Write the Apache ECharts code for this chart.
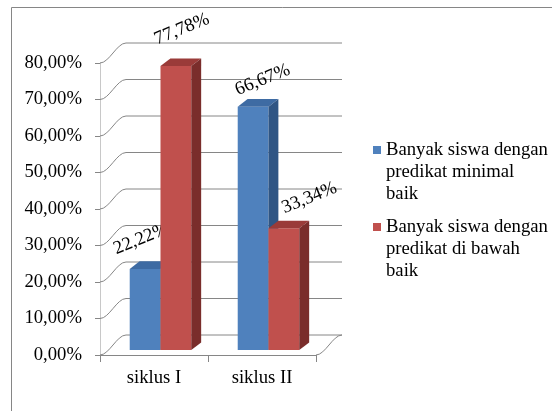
<!DOCTYPE html>
<html><head><meta charset="utf-8">
<script src="https://cdn.jsdelivr.net/npm/echarts@6/dist/echarts.min.js"></script>
<style>html,body{margin:0;padding:0;background:#fff}#c{width:552px;height:411px}</style>
</head><body><div id="c"></div>
<script>
// ---- data ----
const categories = ['siklus I', 'siklus II'];
const seriesNames = ['Banyak siswa dengan predikat minimal baik', 'Banyak siswa dengan predikat di bawah baik'];
const legendLines = [['Banyak siswa dengan', 'predikat minimal', 'baik'], ['Banyak siswa dengan', 'predikat di bawah', 'baik']];
const minimalBaik = [22.22, 66.67];
const diBawahBaik = [77.78, 33.34];
const yTicks = [0, 10, 20, 30, 40, 50, 60, 70, 80];

// ---- styles ----
const FONT = '"Liberation Serif", "DejaVu Serif", "Times New Roman", serif';
const FS = 18.7;
const DEPTH = { dx: 26, dy: -20 };
const BAR_Z0 = 0.25, BAR_DEPTH = 0.38, BAR_W = 0.285;
const faceColors = [
  { front: '#4F81BD', top: '#3E6BA3', side: '#2F5584' },
  { front: '#C0504D', top: '#9A3B39', side: '#7A2D2B' }
];
const labelNudge = [[[-4, -30], [9.5, -26.7]], [[6, -37], [25.5, -30.3]]];
const LABEL_ROT = 22 * Math.PI / 180;
const GRID_COLOR = '#868686';

const fmt = v => v.toFixed(2).replace('.', ',') + '%';

function barRender(si) {
  return function (params, api) {
    const cat = api.value(0), v = api.value(1);
    const base = api.coord([cat, 0]);
    const top = api.coord([cat, v]);
    const band = api.size([1, 0])[0];
    const w = band * BAR_W;
    const ox = DEPTH.dx * BAR_Z0, oy = DEPTH.dy * BAR_Z0;
    const bx = DEPTH.dx * BAR_DEPTH, by = DEPTH.dy * BAR_DEPTH;
    const x0 = base[0] + ox + (si === 0 ? -w : 0);
    const x1 = x0 + w;
    const yb = base[1] + oy, yt = top[1] + oy;
    const c = faceColors[si];
    const nudge = labelNudge[si][cat];
    return {
      type: 'group',
      children: [
        { type: 'rect', shape: { x: x0, y: yt, width: w, height: yb - yt }, style: { fill: c.front } },
        { type: 'polygon', shape: { points: [[x0, yt], [x1, yt], [x1 + bx, yt + by], [x0 + bx, yt + by]] }, style: { fill: c.top } },
        { type: 'polygon', shape: { points: [[x1, yt], [x1 + bx, yt + by], [x1 + bx, yb + by], [x1, yb]] }, style: { fill: c.side } },
        {
          type: 'text', x: (x0 + x1) / 2 + nudge[0], y: yt + nudge[1], rotation: LABEL_ROT,
          style: { text: fmt(v), fill: '#000', font: FS + 'px ' + FONT, align: 'center', verticalAlign: 'middle' }
        }
      ]
    };
  };
}

function wallRender(params, api) {
  const v = api.value(1);
  const cs = params.coordSys;
  const y = api.coord([0, v])[1];
  const xl = cs.x, xr = cs.x + cs.width;
  const st = { stroke: GRID_COLOR, lineWidth: 1, fill: 'none' };
  const curve = (x) => ({
    type: 'bezierCurve',
    shape: { x1: x, y1: y, cpx1: x + DEPTH.dx * 0.35, cpy1: y, cpx2: x + DEPTH.dx * 0.65, cpy2: y + DEPTH.dy, x2: x + DEPTH.dx, y2: y + DEPTH.dy },
    style: st
  });
  const children = [
    curve(xl),
    { type: 'line', shape: { x1: xl + DEPTH.dx, y1: y + DEPTH.dy, x2: xr + DEPTH.dx, y2: y + DEPTH.dy }, style: st }
  ];
  if (v === 0) children.push(curve(xr));
  return { type: 'group', children };
}

const chart = echarts.init(document.getElementById('c'), null, { renderer: 'canvas' });
chart.setOption({
  backgroundColor: '#fff',
  animation: false,
  graphic: [{
    type: 'rect', silent: true, z: -10,
    shape: { x: 11.5, y: 7.5, width: 700, height: 600 },
    style: { fill: 'none', stroke: GRID_COLOR, lineWidth: 1 }
  }],
  grid: { left: 100, right: 236, top: 63, bottom: 56, containLabel: false, outerBoundsMode: 'none' },
  legend: {
    orient: 'vertical', left: 373, top: 95, padding: 0,
    itemWidth: 8, itemHeight: 8, itemGap: -33, icon: 'rect',
    selectedMode: false,
    data: seriesNames,
    // two leading blank lines put the first text line level with the marker
    formatter: name => '\n\n' + legendLines[seriesNames.indexOf(name)].join('\n'),
    textStyle: { fontFamily: FONT, fontSize: FS, lineHeight: 22, color: '#000' }
  },
  xAxis: {
    type: 'category', data: categories,
    axisLine: { show: true, lineStyle: { color: GRID_COLOR } },
    axisTick: { show: true, length: 7, alignWithLabel: false, lineStyle: { color: GRID_COLOR } },
    axisLabel: { fontFamily: FONT, fontSize: FS, color: '#000', margin: 14 },
    splitLine: { show: false }
  },
  yAxis: {
    type: 'value', min: 0, max: 80, interval: 10,
    axisLine: { show: true, lineStyle: { color: '#C8C8C8' } },
    axisTick: { show: true, length: 5, lineStyle: { color: GRID_COLOR } },
    axisLabel: { fontFamily: FONT, fontSize: FS, color: '#000', margin: 18, formatter: fmt },
    splitLine: { show: false }
  },
  series: [
    {
      type: 'custom', name: 'wall', silent: true, z: 1,
      renderItem: wallRender,
      data: yTicks.map(v => [0, v]),
      itemStyle: { color: GRID_COLOR }
    },
    {
      type: 'custom', name: seriesNames[0], z: 2,
      renderItem: barRender(0),
      data: minimalBaik.map((v, i) => [i, v]),
      itemStyle: { color: faceColors[0].front }
    },
    {
      type: 'custom', name: seriesNames[1], z: 3,
      renderItem: barRender(1),
      data: diBawahBaik.map((v, i) => [i, v]),
      itemStyle: { color: faceColors[1].front }
    }
  ]
});
</script>
</body></html>
